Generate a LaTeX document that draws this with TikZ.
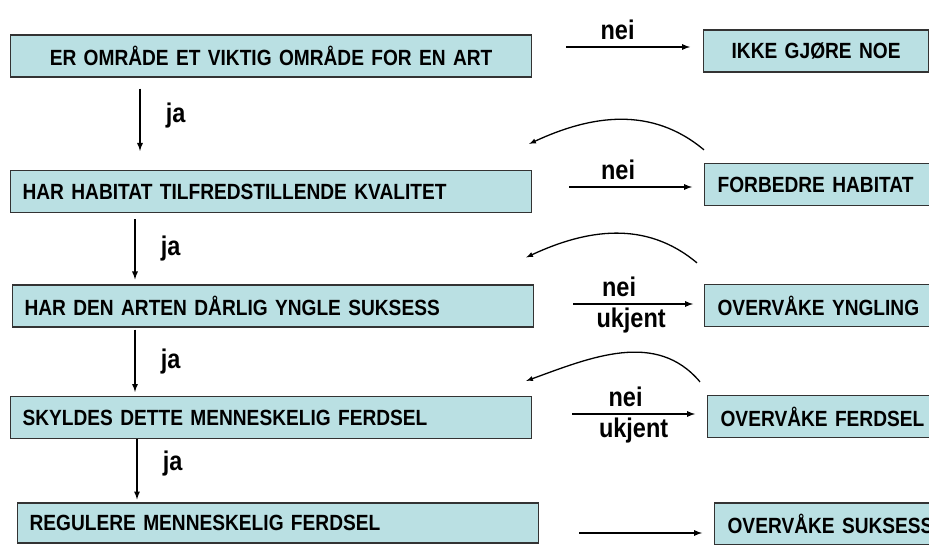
\documentclass[tikz,border=0pt]{standalone}
\usepackage{fontspec}
\setmainfont{Liberation Sans}
\newfontfamily\boxfont[FakeStretch=0.87]{Liberation Sans}
\usetikzlibrary{arrows,positioning,shapes}
\definecolor{boxblue}{RGB}{186,224,227}

\begin{document}
\begin{tikzpicture}[
            x=1pt,y=1pt,
            quest/.style={draw=black!80,fill=boxblue,line width=1.2pt,minimum height=42pt,text width=497pt,inner xsep=12pt,align=left,anchor=west,font=\boxfont\fontsize{22}{24}\selectfont\bfseries},
            act/.style={quest,text width=199pt,inner xsep=13pt},
            lab/.style={font=\boxfont\fontsize{27}{28}\selectfont\bfseries,inner sep=1pt},
            flow/.style={draw,->,>=latex,line width=1.7pt},
            back/.style={draw,->,>=latex,line width=1.3pt}
          ]
          \useasboundingbox (0,0) rectangle (929,-545);
          \clip (0,0) rectangle (929,-545);

          %questions
          \node[quest,align=center] (q1) at (10,-56) {ER OMRÅDE ET VIKTIG OMRÅDE FOR EN ART};
          \node[quest] (q2) at (10,-191.5) {HAR HABITAT TILFREDSTILLENDE KVALITET};
          \node[quest] (q3) at (12,-306) {HAR DEN ARTEN DÅRLIG YNGLE SUKSESS};
          \node[quest] (q4) at (10,-417.5) {SKYLDES DETTE MENNESKELIG FERDSEL};
          \node[quest,minimum height=40pt] (q5) at (17,-523) {REGULERE MENNESKELIG FERDSEL};

          %actions
          \node[act,align=center] (a1) at (703,-51) {IKKE GJØRE NOE};
          \node[act] (a2) at (704,-184.5) {FORBEDRE HABITAT};
          \node[act,text width=240pt] (a3) at (704,-305.5) {OVERVÅKE YNGLING};
          \node[act,text width=240pt] (a4) at (707,-416.5) {OVERVÅKE FERDSEL};
          \node[act,text width=240pt] (a5) at (714,-524) {OVERVÅKE SUKSESS};

          %arrow ends
          \coordinate (j1) at ([xshift=130pt]q1.south west);
          \coordinate (j2) at ([xshift=125pt]q2.south west);
          \coordinate (j3) at ([xshift=123pt]q3.south west);
          \coordinate (j4) at ([xshift=127pt]q4.south west);
          \coordinate (n1) at ([yshift=9pt]q1.east);
          \coordinate (n2) at ([yshift=4.5pt]q2.east);
          \coordinate (n3) at ([yshift=2pt]q3.east);
          \coordinate (n4) at ([yshift=3.5pt]q4.east);
          \coordinate (n5) at ([yshift=-10pt]q5.east);
          \coordinate (b1) at ([yshift=13pt]a2.north west);
          \coordinate (e1) at ([shift={(-3pt,26pt)}]q2.north east);
          \coordinate (b2) at ([shift={(-7pt,21pt)}]a3.north west);
          \coordinate (e2) at ([shift={(-8pt,27pt)}]q3.north east);
          \coordinate (b3) at ([shift={(-7pt,13pt)}]a4.north west);
          \coordinate (e3) at ([shift={(-6pt,15pt)}]q4.north east);

          %ja
          \path
          (j1) edge[flow,shorten <=11pt,shorten >=19pt] node[lab,right=24pt,yshift=8pt] {ja} (j1 |- q2.north)
          (j2) edge[flow,shorten <=6pt,shorten >=5pt] node[lab,right=24pt] {ja} (j2 |- q3.north)
          (j3) edge[flow,shorten <=2pt,shorten >=4pt] node[lab,right=24pt] {ja} (j3 |- q4.north)
          (j4) edge[flow,shorten >=3pt] node[lab,right=24pt,yshift=7pt] {ja} (j4 |- q5.north)
          ;

          %nei
          \path
          (n1) edge[flow,shorten <=34pt,shorten >=13pt] node[lab,above=5pt] {nei} (n1 -| a1.west)
          (n2) edge[flow,shorten <=37pt,shorten >=12pt] node[lab,above=5pt] {nei} (n2 -| a2.west)
          (n3) edge[flow,shorten <=39pt,shorten >=11pt] node[lab,above=5pt] {nei} node[lab,below=2pt,xshift=12pt] {ukjent} (n3 -| a3.west)
          (n4) edge[flow,shorten <=40pt,shorten >=12pt] node[lab,above=5pt,xshift=6pt] {nei} node[lab,below=2pt,xshift=14pt] {ukjent} (n4 -| a4.west)
          (n5) edge[flow,shorten <=40pt,shorten >=12pt] (n5 -| a5.west)
          ;

          %back arrows
          \path
          (b1) edge[back,out=140,in=25] (e1)
          (b2) edge[back,out=140,in=25] (e2)
          (b3) edge[back,out=130,in=20] (e3)
          ;
\end{tikzpicture}
\end{document}
